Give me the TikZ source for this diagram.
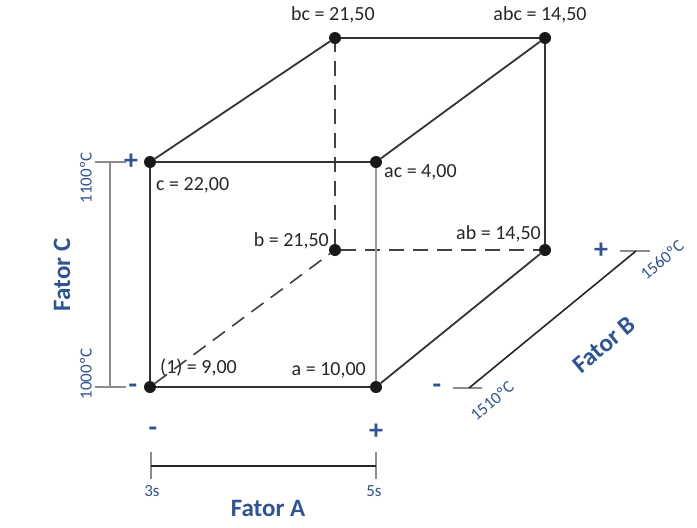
\documentclass[tikz,border=0pt]{standalone}
\usepackage{fontspec}
\setmainfont{Carlito}
\usepackage{xcolor}
\usetikzlibrary{positioning, calc}
\definecolor{azul}{RGB}{47,84,150}

\begin{document}
\begin{tikzpicture}[
    x=1pt, y=-1pt,
    vertice/.style={circle, fill=black!90, inner sep=0pt, minimum size=12pt},
    aresta/.style={line width=1.8pt, black!80},
    oculta/.style={line width=1.6pt, black!75, dash pattern=on 15pt off 9pt},
    rotulo/.style={font=\fontsize{20}{22}\selectfont, text=black!85, inner sep=1pt},
    eixo/.style={line width=1.6pt, black!85},
    marca/.style={line width=2.6pt, black!45},
    sinal/.style={font=\fontsize{28}{28}\selectfont\bfseries, text=azul},
    nivel/.style={font=\fontsize{17}{19}\selectfont, text=azul, inner sep=1pt},
    fator/.style={font=\fontsize{25}{27}\selectfont\bfseries, text=azul}
]
\useasboundingbox (0,0) rectangle (697,528);

% vertices do cubo
\node[vertice] (n1)   at (150,387) {};
\node[vertice] (na)   at (376,387) {};
\node[vertice] (nc)   at (150,162) {};
\node[vertice] (nac)  at (376,162) {};
\node[vertice] (nb)   at (335,250) {};
\node[vertice] (nab)  at (545,250) {};
\node[vertice] (nbc)  at (335,38) {};
\node[vertice] (nabc) at (545,38) {};

% arestas ocultas
\draw[oculta] (n1) -- (nb);
\draw[oculta] (nb) -- (nab);
\draw[oculta] (nb) -- (nbc);

% arestas visiveis
\draw[aresta] (n1) -- (na) -- (nab) -- (nabc) -- (nbc) -- (nc) -- (n1);
\draw[aresta] (nc) -- (nac) -- (nabc);
\draw[line width=1.8pt, black!40] (nac) -- (na);

% respostas
\node[rotulo, anchor=west] at ($(nc)+(5,23)$) {c = 22,00};
\node[rotulo, anchor=west] at ($(nac)+(7,10)$) {ac = 4,00};
\node[rotulo, anchor=east] at ($(nb)+(-5,-9)$) {b = 21,50};
\node[rotulo, anchor=east] at ($(nab)+(-3,-16)$) {ab = 14,50};
\node[rotulo, anchor=west] at ($(n1)+(9,-19)$) {(1) = 9,00};
\node[rotulo, anchor=east] at ($(na)+(-9,-17)$) {a = 10,00};
\node[rotulo] at ($(nbc)+(-2,-23)$) {bc = 21,50};
\node[rotulo] at ($(nabc)+(-5,-23)$) {abc = 14,50};

% Fator A
\coordinate (a0) at (151,466);
\coordinate (a1) at (376,466);
\draw[marca] ($(a0)+(0,-14)$) -- ($(a0)+(0,13)$);
\draw[marca] ($(a1)+(0,-14)$) -- ($(a1)+(0,13)$);
\draw[eixo] (a0) -- (a1);
\node[sinal] at (153,432) {-};
\node[sinal] at (376,432) {+};
\node[nivel] at (152,491) {3s};
\node[nivel] at (374,491) {5s};
\node[fator] at (268,508) {Fator A};

% Fator C
\coordinate (c0) at (110,387);
\coordinate (c1) at (110,162);
\draw[marca] ($(c0)+(-15,0)$) -- ($(c0)+(16,0)$);
\draw[marca] ($(c1)+(-15,0)$) -- ($(c1)+(16,0)$);
\draw[marca] (c0) -- (c1);
\node[sinal] at (133,389) {-};
\node[sinal] at (131,162) {+};
\node[nivel, rotate=90] at (86,178) {1100ºC};
\node[nivel, rotate=90] at (86,374) {1000ºC};
\node[fator, rotate=90] at (62,275) {Fator C};

% Fator B
\coordinate (b0) at (469,388);
\coordinate (b1) at (636,251);
\draw[marca] ($(b0)+(-16,0)$) -- ($(b0)+(13,0)$);
\draw[marca] ($(b1)+(-16,0)$) -- ($(b1)+(14,0)$);
\draw[eixo] (b0) -- (b1);
\node[sinal] at (437,389) {-};
\node[sinal] at (601,251) {+};
\node[nivel, rotate=40] at (492,401) {1510ºC};
\node[nivel, rotate=40] at (662,260) {1560ºC};
\node[fator, rotate=40] at (604,345) {Fator B};

\end{tikzpicture}
\end{document}
